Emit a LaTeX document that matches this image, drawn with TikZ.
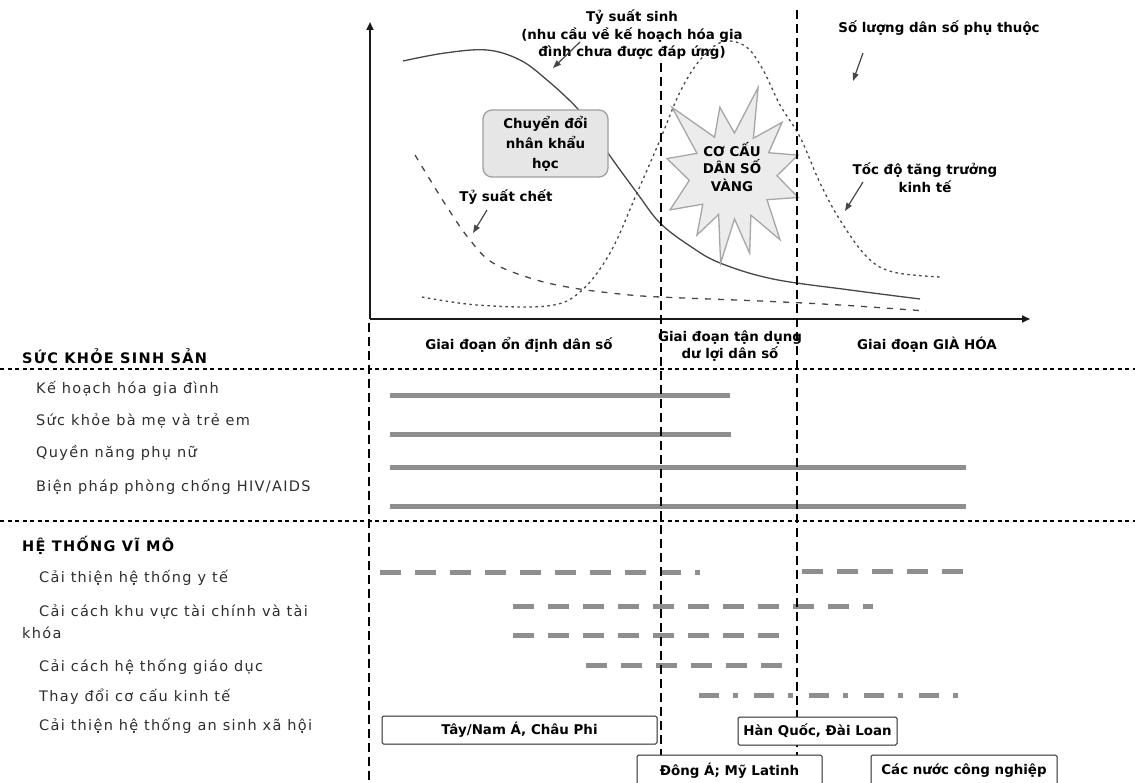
\documentclass[tikz,border=0pt]{standalone}
\usepackage{fontspec}
\setmainfont{DejaVu Sans}
\newfontfamily\labfont[LetterSpace=9]{DejaVu Sans}
\newfontfamily\hdrfont[LetterSpace=9]{DejaVu Sans}
\newfontfamily\chfont{DejaVu Sans}
\newfontfamily\bxfont{DejaVu Sans}
\usetikzlibrary{arrows.meta}
\definecolor{curvec}{HTML}{474747}
\definecolor{barc}{HTML}{8E8E8E}
\definecolor{txtc}{HTML}{2E2E2E}
\definecolor{boxfill}{HTML}{E6E6E6}
\definecolor{starfill}{HTML}{ECECEC}
\begin{document}
\begin{tikzpicture}[x=1pt,y=-1pt,
  sepline/.style={black, line width=1.3pt, dash pattern=on 4pt off 3.5pt},
  vdash/.style={black, line width=2.4pt, dash pattern=on 9pt off 5pt},
  sbar/.style={barc, line width=5pt},
  dbar/.style={barc, line width=5pt, dash pattern=on 21pt off 14pt},
  ddbar/.style={barc, line width=5pt, dash pattern=on 20pt off 14pt on 5pt off 16pt},
  curvesolid/.style={curvec, line width=1.3pt},
  curvedash/.style={curvec, line width=1.3pt, dash pattern=on 6pt off 7pt},
  curvedot/.style={curvec, line width=1.3pt, dash pattern=on 2.5pt off 3.5pt},
  axisline/.style={black!90, line width=2pt, -{Triangle[length=8pt,width=7pt]}},
  lblarrow/.style={curvec, line width=1.2pt, -{Triangle[length=8pt,width=6pt]}},
  btxt/.style={font=\chfont\bfseries\fontsize{13.4}{17.5}\selectfont, align=center, inner sep=0pt},
  ltxt/.style={font=\labfont\fontsize{14.5}{17}\selectfont, text=txtc, anchor=west, inner sep=0pt},
  hdr/.style={font=\hdrfont\bfseries\fontsize{14.5}{17}\selectfont, anchor=west, inner sep=0pt},
  cbox/.style={draw=black!85, line width=1pt, fill=white, rounded corners=1.5pt,
    font=\bxfont\bfseries\fontsize{13.4}{15}\selectfont, inner sep=0pt},
  demobox/.style={draw=gray!75, line width=1.3pt, fill=boxfill, rounded corners=9pt,
    minimum width=125pt, minimum height=67pt, align=center, inner sep=0pt,
    font=\chfont\bfseries\fontsize{13.4}{20}\selectfont},
  starshape/.style={draw=gray!70, line width=1.3pt, fill=starfill}
]
\useasboundingbox (0,0) rectangle (1135,783);
\clip (0,0) rectangle (1135,783);

% ---------- separators ----------
\coordinate (s1l) at (0,369);  \coordinate (s1r) at (1135,369);
\coordinate (s2l) at (0,521);  \coordinate (s2r) at (1135,521);
\draw[sepline] (s1l) -- (s1r);
\draw[sepline] (s2l) -- (s2r);

% ---------- curves ----------
\draw[curvesolid] plot[smooth, tension=0.6] coordinates {(403,61) (445,53) (487,50) (520,60) (547,80) (577,108) (595,132) (608,153) (637,193) (660,223) (690,246) (720,263) (773,279) (850,290) (920,299)};
\draw[curvedash] plot[smooth, tension=0.6] coordinates {(415,155) (447,207) (470,240) (493,263) (533,279) (573,288) (620,294) (660,297) (760,301) (840,305) (926,311)};
\draw[curvedot] plot[smooth, tension=0.6] coordinates {(422,297) (477,305) (547,306) (580,292) (610,253) (637,193) (660,140) (680,92) (700,60) (722,42) (745,46) (762,68) (780,105) (800,137) (820,183) (840,220) (867,257) (893,272) (940,277)};

% ---------- demographic transition box ----------
\node[demobox] (dt) at (545.5,143.5) {Chuyển đổi\\nhân khẩu\\học};

% ---------- starburst ----------
\begin{scope}[shift={(733,175)}]
\draw[starshape] (-74:91) -- (-61:42) -- (-47:72) -- (-32:42) -- (-17:68) -- (1:44) -- (19:69) -- (36:42) -- (54:80) -- (66:44) -- (78:80) -- (88:44) -- (98:89) -- (110:42) -- (121:70) -- (136:42) -- (151:72) -- (173:44) -- (194:68) -- (211:42) -- (228:91) -- (244:42) -- (259:69) -- (272:42) -- cycle;
\end{scope}
\node[btxt] (gold) at (732,167) {CƠ CẤU\\DÂN SỐ\\VÀNG};

% ---------- chart labels ----------
\node[btxt] (birth) at (632,35) {Tỷ suất sinh\\(nhu cầu về kế hoạch hóa gia\\đình chưa được đáp ứng)};
\node[btxt] (dep) at (939,28) {Số lượng dân số phụ thuộc};
\node[btxt] (death) at (506,197) {Tỷ suất chết};
\node[btxt] (growth) at (925,178) {Tốc độ tăng trưởng\\kinh tế};

\coordinate (birthT) at (580,42);  \coordinate (birthH) at (553,68);
\coordinate (deathT) at (487,210); \coordinate (deathH) at (473,233);
\coordinate (depT) at (863,53);    \coordinate (depH) at (853,81);
\coordinate (growT) at (863,182);  \coordinate (growH) at (845,211);
\draw[lblarrow] (birthT) -- (birthH);
\draw[lblarrow] (deathT) -- (deathH);
\draw[lblarrow] (depT) -- (depH);
\draw[lblarrow] (growT) -- (growH);

% ---------- stage labels ----------
\node[btxt] (st1) at (519,345) {Giai đoạn ổn định dân số};
\node[btxt] (st2) at (730,346) {Giai đoạn tận dụng\\dư lợi dân số};
\node[btxt] (st3) at (927,345) {Giai đoạn GIÀ HÓA};

% ---------- left labels ----------
\node[hdr] (h1) at (22,356) {SỨC KHỎE SINH SẢN};
\node[ltxt] (l1) at (36,389) {Kế hoạch hóa gia đình};
\node[ltxt] (l2) at (36,421) {Sức khỏe bà mẹ và trẻ em};
\node[ltxt] (l3) at (36,453) {Quyền năng phụ nữ};
\node[ltxt] (l4) at (36,487) {Biện pháp phòng chống HIV/AIDS};
\node[hdr] (h2) at (22,545) {HỆ THỐNG VĨ MÔ};
\node[ltxt] (m1) at (39,578) {Cải thiện hệ thống y tế};
\node[ltxt] (m2) at (39,612) {Cải cách khu vực tài chính và tài};
\node[ltxt] (m2b) at (22,633) {khóa};
\node[ltxt] (m3) at (39,667) {Cải cách hệ thống giáo dục};
\node[ltxt] (m4) at (39,697) {Thay đổi cơ cấu kinh tế};
\node[ltxt] (m5) at (39,726) {Cải thiện hệ thống an sinh xã hội};

% ---------- solid bars ----------
\coordinate (b1a) at (390,396); \coordinate (b1b) at (730,396);
\coordinate (b2a) at (390,434); \coordinate (b2b) at (731,434);
\coordinate (b3a) at (390,467); \coordinate (b3b) at (966,467);
\coordinate (b4a) at (390,506); \coordinate (b4b) at (966,506);
\draw[sbar] (b1a) -- (b1b);
\draw[sbar] (b2a) -- (b2b);
\draw[sbar] (b3a) -- (b3b);
\draw[sbar] (b4a) -- (b4b);

% ---------- dashed bars ----------
\coordinate (d1a) at (380,572); \coordinate (d1b) at (700,572);
\coordinate (d1c) at (802,571); \coordinate (d1d) at (963,571);
\coordinate (d2a) at (513,606); \coordinate (d2b) at (873,606);
\coordinate (d3a) at (513,635); \coordinate (d3b) at (780,635);
\coordinate (d4a) at (586,665); \coordinate (d4b) at (782,665);
\coordinate (d5a) at (699,695); \coordinate (d5b) at (959,695);
\draw[dbar] (d1a) -- (d1b);
\draw[dbar] (d1c) -- (d1d);
\draw[dbar] (d2a) -- (d2b);
\draw[dbar] (d3a) -- (d3b);
\draw[dbar] (d4a) -- (d4b);
\draw[ddbar] (d5a) -- (d5b);

% ---------- axes ----------
\coordinate (O) at (370,319);
\coordinate (ytip) at (370,22);
\coordinate (xtip) at (1030,319);
\draw[axisline] (O) -- (ytip);
\draw[axisline] (O) -- (xtip);

% ---------- vertical dashed stage lines ----------
\coordinate (vlT) at (369,323); \coordinate (vlB) at (369,783);
\coordinate (vmT) at (661,63);  \coordinate (vmB) at (661,783);
\coordinate (vrT) at (797,10);  \coordinate (vrB) at (797,783);
\draw[vdash] (vlT) -- (vlB);
\draw[vdash] (vmT) -- (vmB);
\draw[vdash] (vrT) -- (vrB);

% ---------- country boxes ----------
\node[cbox, minimum width=275pt, minimum height=28pt] (c1) at (519.5,730) {Tây/Nam Á, Châu Phi};
\node[cbox, minimum width=159pt, minimum height=28pt] (c2) at (817.5,731) {Hàn Quốc, Đài Loan};
\node[cbox, minimum width=185pt, minimum height=32pt] (c3) at (729.5,771) {Đông Á; Mỹ Latinh};
\node[cbox, minimum width=186pt, minimum height=32pt] (c4) at (964,771) {Các nước công nghiệp};
\end{tikzpicture}
\end{document}
